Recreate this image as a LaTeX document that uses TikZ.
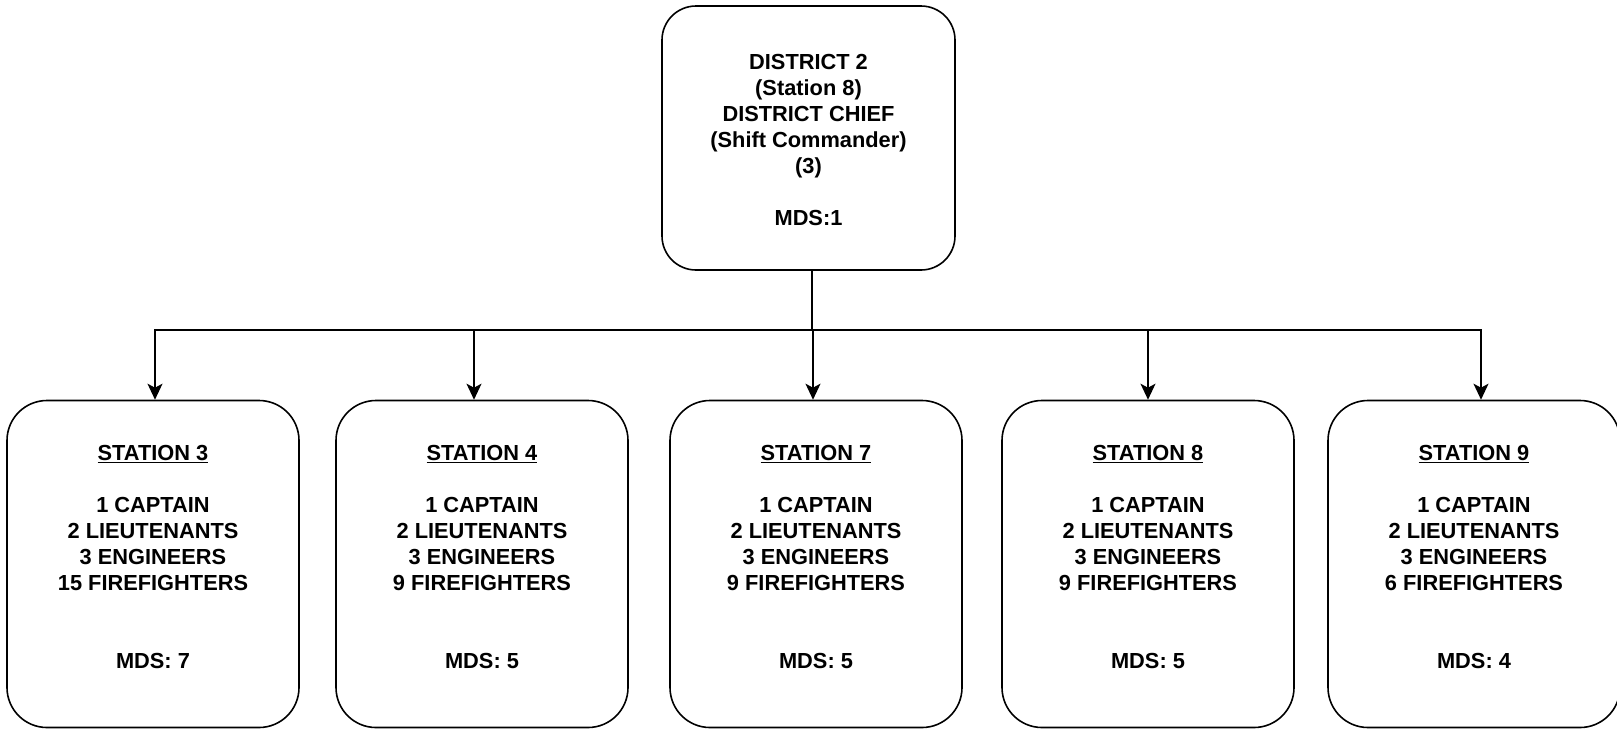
\documentclass[tikz,border=0pt]{standalone}
\usepackage{fontspec}
\setmainfont{Liberation Sans}
\usetikzlibrary{arrows.meta}
\begin{document}
\begin{tikzpicture}[x=1pt,y=-1pt,
  topbox/.style={draw=black,line width=1.6pt,rounded corners=34pt,minimum width=293pt,minimum height=264pt,inner sep=0pt},
  stbox/.style={draw=black,line width=1.6pt,rounded corners=40pt,minimum width=292pt,minimum height=327pt,inner sep=0pt},
  txt/.style={align=center,font=\fontsize{21.8}{26}\selectfont\bfseries,inner sep=0pt},
  conn/.style={draw=black,line width=1.6pt},
  arr/.style={conn,-{Stealth[length=16pt,width=15pt,inset=4pt]}}]
\useasboundingbox (0,0) rectangle (1617,729);
\node[topbox] (top) at (808.5,138) {};
\node[txt] (toptxt) at (808.5,139.5) {DISTRICT 2\\(Station 8)\\DISTRICT CHIEF\\(Shift Commander)\\(3)\\[26pt]MDS:1};
\node[stbox] (s3) at (153,564) {};
\node[stbox] (s4) at (482,564) {};
\node[stbox] (s7) at (816,564) {};
\node[stbox] (s8) at (1148,564) {};
\node[stbox] (s9) at (1474,564) {};
\foreach \s/\n/\f/\m in {s3/3/15/7,s4/4/9/5,s7/7/9/5,s8/8/9/5,s9/9/6/4}{
  \node[txt] (\s t) at ([yshift=7pt]\s.center) {\underline{STATION \n}\\[26pt]1 CAPTAIN\\2 LIEUTENANTS\\3 ENGINEERS\\\f{} FIREFIGHTERS\\[52pt]MDS: \m};
}
\coordinate (trunk) at ([xshift=3.5pt]top.south);
\coordinate (bus) at (trunk |- 0,330);
\draw[conn,line width=2.4pt] (trunk) -- (bus);
\foreach \s/\dx in {s3/2,s4/-8,s7/-3,s8/0,s9/7}{
  \draw[arr] (bus) -| ([xshift=\dx pt]\s.north);
}
\end{tikzpicture}
\end{document}
